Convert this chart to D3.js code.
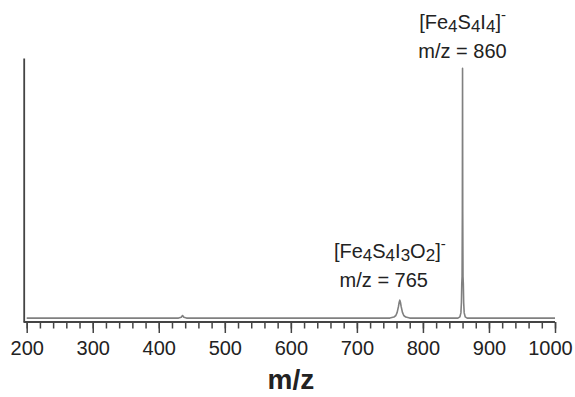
<!DOCTYPE html>
<html>

<head>
  <meta charset="UTF-8">
  <title>mass spectrum</title>
  <style>
    body { margin: 0; background: #fff; }
    text { font-family: "Liberation Sans", Arial, Helvetica, sans-serif; fill: #222; }
  </style>
</head>

<body>
  <script src="https://cdn.jsdelivr.net/npm/d3@7"></script>
  <script type="text/javascript">
  // spectrum (m/z, relative intensity)
  let mzValues = [200, 430, 434, 436, 438, 442, 750, 756, 759, 761, 763, 764, 765, 766, 767, 769, 771, 774, 780,
    853, 856, 857.5, 858.3, 858.8, 859.3, 859.7, 860, 860.3, 860.7, 861.2, 861.7, 862.5, 864, 867, 1000];
  let intensity = [0, 0, 0.3, 1, 0.3, 0, 0, 0.4, 1, 2.2, 4.5, 6, 6.9, 6, 4.5, 2.2, 1, 0.4, 0,
    0, 0.5, 2, 6, 13, 16, 40, 96, 40, 16, 13, 6, 2, 0.5, 0, 0];

  let majorTicks = [200, 300, 400, 500, 600, 700, 800, 900, 1000];
  let minorTicks = d3.range(200, 1001, 20);

  // peak annotations
  let peakMz = [860, 765];
  let formulas = [
    [["[Fe", 0], ["4", -1], ["S", 0], ["4", -1], ["I", 0], ["4", -1], ["]", 0], ["-", 1]],
    [["[Fe", 0], ["4", -1], ["S", 0], ["4", -1], ["I", 0], ["3", -1], ["O", 0], ["2", -1], ["]", 0], ["-", 1]]
  ];
  let peakLabels = ["m/z = 860", "m/z = 765"];

  var width = 575, height = 397;

  var x = d3.scaleLinear().domain([200, 1000]).range([26.7, 555]);
  var y = d3.scaleLinear().domain([-1.5, 100]).range([322, 58]);

  var svg = d3.select("body").append("svg")
    .attr("width", width)
    .attr("height", height);

  // x axis: minor ticks then major ticks with labels
  svg.append("g")
    .attr("transform", "translate(0," + y(-1.5) + ")")
    .call(d3.axisBottom(x).tickValues(minorTicks).tickSize(6.5).tickFormat(""))
    .call(g => g.select(".domain").remove())
    .selectAll("line").attr("stroke", "#444").attr("stroke-width", 1.5);

  var xg = svg.append("g")
    .attr("transform", "translate(0," + y(-1.5) + ")")
    .call(d3.axisBottom(x).tickValues(majorTicks).tickSize(11).tickSizeOuter(0).tickFormat(d3.format("d")));
  xg.select(".domain")
    .attr("d", "M" + (x(200) - 3) + ",0H" + x(1000))
    .attr("stroke", "#444").attr("stroke-width", 1.8);
  xg.selectAll("line").attr("stroke", "#444").attr("stroke-width", 1.5);
  xg.selectAll("text")
    .attr("y", 33).attr("dy", 0)
    .attr("dx", d => d == 1000 ? -5 : 0)
    .style("font-size", "20px")
    .style("font-family", "'Liberation Sans', Arial, sans-serif")
    .attr("fill", "#222");

  // y axis, just the line
  svg.append("g")
    .attr("transform", "translate(" + (x(200) - 3) + ",0)")
    .call(d3.axisLeft(y).tickValues([]).tickSizeOuter(0))
    .select(".domain").attr("stroke", "#444").attr("stroke-width", 1.8);

  // spectrum
  var line = d3.line()
    .x(function (d, i) { return x(mzValues[i]); })
    .y(function (d) { return y(d); });

  svg.append("path")
    .datum(intensity)
    .attr("d", line)
    .attr("fill", "none")
    .attr("stroke", "#808080")
    .attr("stroke-width", 1.6)
    .attr("stroke-linejoin", "round");

  // annotations
  var labelPos = [{ dx: 0, y1: 29, y2: 58 }, { dx: -10, y1: 258, y2: 287 }];
  peakMz.forEach(function (mz, i) {
    var cx = x(mz) + labelPos[i].dx;
    var t = svg.append("text")
      .attr("x", cx)
      .attr("y", labelPos[i].y1)
      .attr("text-anchor", "middle")
      .style("font-size", "20px");
    formulas[i].forEach(function (p) {
      var ts = t.append("tspan").text(p[0]);
      if (p[1] == -1) ts.attr("baseline-shift", "-3").style("font-size", "17px");
      if (p[1] == 1) ts.attr("baseline-shift", "9").style("font-size", "15px");
    });
    svg.append("text")
      .attr("x", cx + (i == 1 ? -6 : 0))
      .attr("y", labelPos[i].y2)
      .attr("text-anchor", "middle")
      .style("font-size", "20px")
      .text(peakLabels[i]);
  });

  // axis title
  svg.append("text")
    .attr("x", (x(200) + x(1000)) / 2)
    .attr("y", 389)
    .attr("text-anchor", "middle")
    .style("font-size", "28px")
    .style("font-weight", "bold")
    .text("m/z");
  </script>

</body>

</html>
